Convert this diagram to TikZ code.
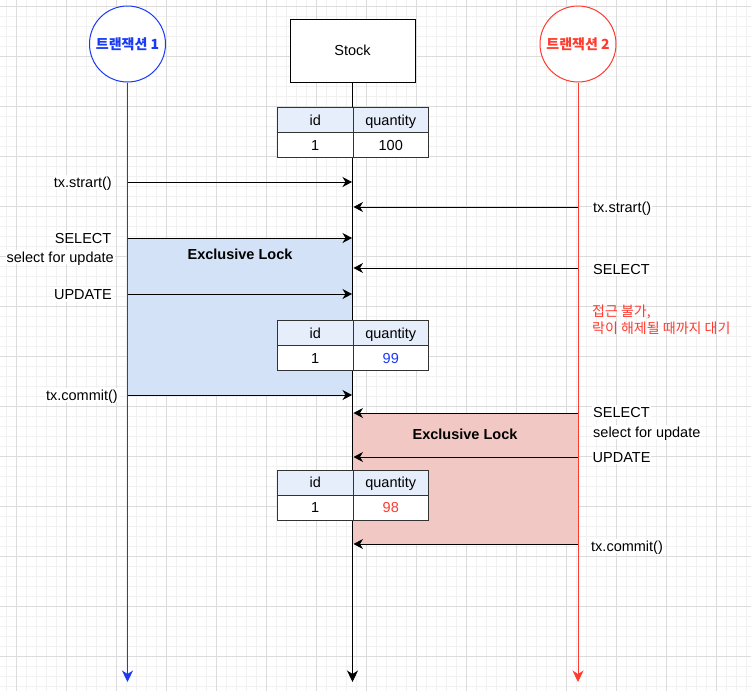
\documentclass[tikz,border=0pt]{standalone}
\usepackage{fontspec}
\setmainfont{Liberation Sans}
\newfontfamily\kr{Noto Sans CJK KR}
\usetikzlibrary{arrows.meta}
\definecolor{tblue}{HTML}{1A3BF5}
\definecolor{tred}{HTML}{FF3B30}
\definecolor{lockblue}{HTML}{D4E2F7}
\definecolor{lockred}{HTML}{F2C8C4}
\definecolor{hdr}{HTML}{E6EEFB}
\definecolor{gmajor}{HTML}{DCDCDC}
\definecolor{gminor}{HTML}{F1F1F1}
\definecolor{tborder}{HTML}{333333}
\begin{document}
\begin{tikzpicture}[x=1pt,y=-1pt,
  font=\fontsize{14.5}{17}\selectfont,
  lbl/.style={inner xsep=1pt, inner ysep=2pt, text height=10.4pt, text depth=0pt, fill=white},
  krlbl/.style={inner sep=0pt, text height=10.4pt, text depth=0pt, text=tred, font=\kr\fontsize{14}{16}\selectfont},
  msg/.style={line width=1pt, -{Stealth[length=9.5pt,width=10pt,inset=3pt]}},
  life/.style={line width=1pt, -{Stealth[length=11.5pt,width=11pt,inset=3.5pt]}},
  title/.style={circle, line width=1pt, fill=white, minimum size=76pt, inner sep=0pt, font=\kr\bfseries\fontsize{14}{16}\selectfont},
  cell/.style={draw=tborder, line width=1pt, minimum width=75.5pt, minimum height=25pt, inner sep=0pt, anchor=north west, text height=10.4pt, text depth=0pt},
  hcell/.style={cell, fill=hdr},
  vcell/.style={cell, fill=white},
  lockbox/.style={inner sep=0pt, anchor=north west},
  locktext/.style={font=\bfseries\fontsize{14.5}{17}\selectfont, inner sep=0pt, text height=10.4pt, text depth=0pt},
]
\useasboundingbox (0,0) rectangle (751,691);
\fill[white] (0,0) rectangle (751,691);
% grid
\foreach \x in {6,16,...,746} \draw[gminor, line width=1pt] (\x,0) -- (\x,691);
\foreach \y in {6,16,...,686} \draw[gminor, line width=1pt] (0,\y) -- (751,\y);
\foreach \x in {16,66,...,716} \draw[gmajor, line width=1pt] (\x,0) -- (\x,691);
\foreach \y in {6,56,...,656} \draw[gmajor, line width=1pt] (0,\y) -- (751,\y);

% lock areas
\node[lockbox, fill=lockblue, minimum width=225pt, minimum height=157pt] (lock1) at (127.5,238) {};
\node[lockbox, fill=lockred, minimum width=225.5pt, minimum height=131pt] (lock2) at (352.5,413) {};
\node[locktext] (lk1) at (240,254) {Exclusive Lock};
\node[locktext] (lk2) at (465,434) {Exclusive Lock};

% participants
\node[title, draw=tblue, text=tblue] (t1) at (127.5,44) {트랜잭션 1};
\node[title, draw=tred, text=tred] (t2) at (578,44) {트랜잭션 2};
\node[draw, line width=1pt, fill=white, minimum width=125pt, minimum height=63pt, inner sep=0pt] (stock) at (352.5,50.5) {Stock};

\coordinate (e1) at (127.5,682);
\coordinate (es) at (352.5,682);
\coordinate (e2) at (578,682);
\draw[life, tblue] (t1.south) -- (e1);
\draw[life, black] (stock.south) -- (es);
\draw[life, tred] (t2.south) -- (e2);

% tables
\node[hcell] (h1id) at (277,107) {id};
\node[hcell] (h1q) at (352.5,107) {quantity};
\node[vcell] (v1id) at (277,132) {1};
\node[vcell] (v1q) at (352.5,132) {100};

\node[hcell] (h2id) at (277,320) {id};
\node[hcell] (h2q) at (352.5,320) {quantity};
\node[vcell] (v2id) at (277,345) {1};
\node[vcell, text=tblue] (v2q) at (352.5,345) {99};

\node[hcell] (h3id) at (277,469.5) {id};
\node[hcell] (h3q) at (352.5,469.5) {quantity};
\node[vcell] (v3id) at (277,494.5) {1};
\node[vcell, text=tred] (v3q) at (352.5,494.5) {98};

% message anchor points
\foreach \n/\y in {m1/182, m3/238, m5/294, m7/395} {
  \coordinate (\n a) at (127.5,\y);
  \coordinate (\n b) at (352,\y);
}
\foreach \n/\y in {m2/207, m4/268, m8/413, m9/457, m10/544} {
  \coordinate (\n a) at (578,\y);
  \coordinate (\n b) at (353.5,\y);
}
\draw[msg] (m1a) -- (m1b);
\draw[msg] (m2a) -- (m2b);
\draw[msg] (m3a) -- (m3b);
\draw[msg] (m4a) -- (m4b);
\draw[msg] (m5a) -- (m5b);
\draw[msg] (m7a) -- (m7b);
\draw[msg] (m8a) -- (m8b);
\draw[msg] (m9a) -- (m9b);
\draw[msg] (m10a) -- (m10b);

% labels left
\node[lbl, anchor=east] (l1) at (113,182) {tx.strart()};
\node[lbl, anchor=east] (l3) at (112.5,238) {SELECT};
\node[lbl, anchor=east] (l3b) at (115,257) {select for update};
\node[lbl, anchor=east] (l5) at (113,294.5) {UPDATE};
\node[lbl, anchor=east] (l7) at (119,395) {tx.commit()};
% labels right
\node[lbl, anchor=west] (r2) at (592,207) {tx.strart()};
\node[lbl, anchor=west] (r4) at (592,269) {SELECT};
\node[krlbl, anchor=west] (r6a) at (592,311) {접근 불가,};
\node[krlbl, anchor=west] (r6b) at (592,328) {락이 해제될 때까지 대기};
\node[lbl, anchor=west] (r8) at (592,412) {SELECT};
\node[lbl, anchor=west] (r8b) at (592,432) {select for update};
\node[lbl, anchor=west] (r9) at (591.5,457) {UPDATE};
\node[lbl, anchor=west] (r10) at (590,546) {tx.commit()};
\end{tikzpicture}
\end{document}
